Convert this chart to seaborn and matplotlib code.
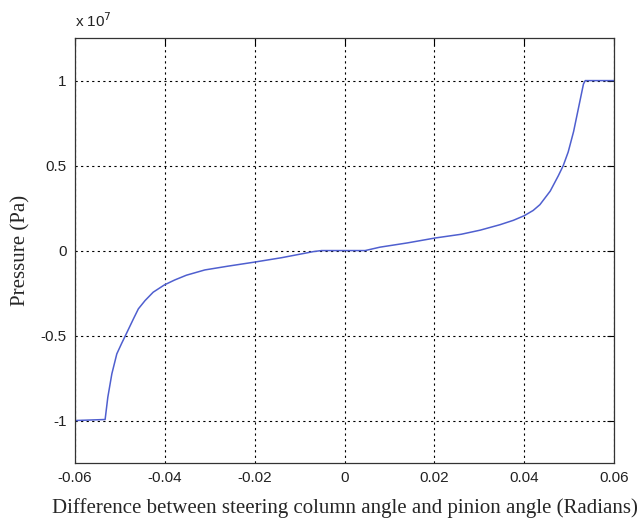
import numpy as np
import pandas as pd
import matplotlib
matplotlib.use("Agg")
import matplotlib.pyplot as plt
import seaborn as sns

# Data (pressure in units of 1e7 Pa)
angle = [-0.06, -0.0533, -0.0527, -0.0518, -0.0507, -0.0496, -0.0485,
         -0.0470, -0.0459, -0.0444, -0.0426, -0.0401, -0.0378, -0.0352,
         -0.0311, -0.0260, -0.0203, -0.0140, -0.0069, -0.0051, 0.0046,
         0.0079, 0.0140, 0.0202, 0.0260, 0.0302, 0.0346, 0.0376, 0.0400,
         0.0420, 0.0435, 0.0458, 0.0476, 0.0487, 0.0498, 0.0510, 0.0521,
         0.0532, 0.0536, 0.06]
pressure = [-1.0, -0.994, -0.863, -0.725, -0.608, -0.545, -0.485,
            -0.402, -0.343, -0.294, -0.245, -0.202, -0.173, -0.145,
            -0.114, -0.092, -0.069, -0.042, -0.006, 0.0, 0.0,
            0.020, 0.045, 0.074, 0.096, 0.120, 0.152, 0.178, 0.205,
            0.236, 0.270, 0.350, 0.440, 0.500, 0.580, 0.700, 0.840,
            0.980, 1.0, 1.0]
xticks = [-0.06, -0.04, -0.02, 0, 0.02, 0.04, 0.06]
xticklabels = ["-0.06", "-0.04", "-0.02", "0", "0.02", "0.04", "0.06"]
yticks = [-1, -0.5, 0, 0.5, 1]
yticklabels = ["-1", "-0.5", "0", "0.5", "1"]

sns.set_style("white")
plt.rcParams['font.family'] = ['Liberation Sans', 'DejaVu Sans']

df = pd.DataFrame({"angle": angle, "pressure": pressure})

fig = plt.figure(figsize=(6.38, 5.22), dpi=100)
ax = fig.add_axes([0.1176, 0.113, 0.8448, 0.814])
sns.lineplot(data=df, x="angle", y="pressure", ax=ax, color="#4f5fcf",
             linewidth=1.1, estimator=None, sort=False)

ax.set_xlim(-0.06, 0.06)
ax.set_ylim(-1.25, 1.25)
ax.set_xticks(xticks)
ax.set_xticklabels(xticklabels, fontsize=11)
ax.set_yticks(yticks)
ax.set_yticklabels(yticklabels, fontsize=11)
ax.grid(True, linestyle=(0, (2, 3)), color="black", linewidth=0.8)
ax.tick_params(direction="in", length=5, width=0.8, top=True, right=True,
               colors="black", labelcolor="#222222", pad=6)
for s in ax.spines.values():
    s.set_color("#333333")
    s.set_linewidth(0.9)

ax.set_xlabel("Difference between steering column angle and pinion angle (Radians)",
              fontfamily="Liberation Serif", fontsize=15, labelpad=9)
ax.set_ylabel("Pressure (Pa)", fontfamily="Liberation Serif", fontsize=15, labelpad=7)

ax.text(0.0, 1.02, r"x 10$^{7}$", transform=ax.transAxes, fontsize=11,
        ha="left", va="bottom", color="#222222")

fig.savefig("out.png", dpi=100)
